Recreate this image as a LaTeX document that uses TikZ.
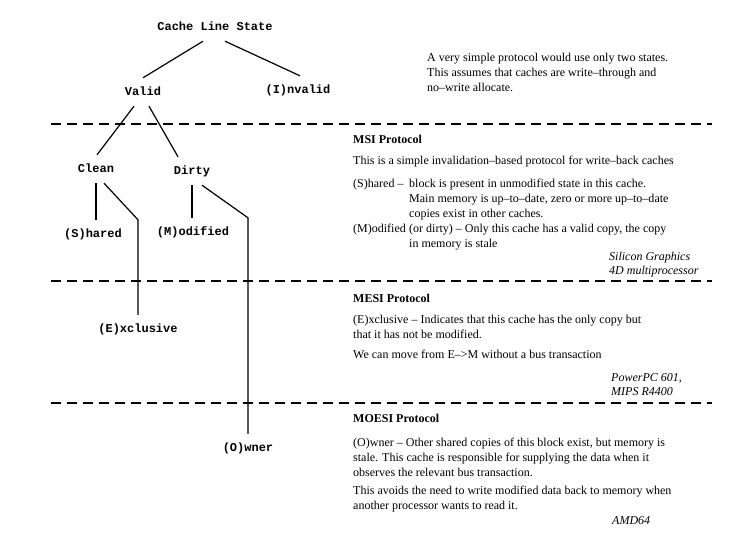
\documentclass[tikz,border=0pt]{standalone}
\usepackage{fontspec}
\setmainfont{Liberation Serif}
\setmonofont{Liberation Mono}
\usetikzlibrary{positioning}
\tikzset{state/.style = {font=\ttfamily\bfseries\fontsize{12}{13}\selectfont,
                         inner sep=0pt, text height=7pt, text depth=1pt, minimum height=28pt}}
\tikzset{note/.style = {anchor=base west, inner sep=0pt, align=left,
                        font=\fontsize{12}{15}\selectfont}}
\tikzset{head/.style = {note, font=\bfseries\fontsize{12}{15}\selectfont}}
\tikzset{cpu/.style = {note, font=\itshape\fontsize{12}{14}\selectfont}}
\tikzset{branch/.style = {line width=1.2pt}}
\tikzset{divider/.style = {line width=1.6pt, dash pattern=on 10pt off 6pt}}

\begin{document}
\begin{tikzpicture}[x=1pt, y=-1pt]
      \useasboundingbox (0,0) rectangle (746,541);

      \node (cls) at (215,27) [state] {Cache Line State};
      \node (valid) at (143,92) [state] {Valid};
      \node (invalid) at (298,90) [state] {(I)nvalid};
      \node (clean) at (96,169) [state] {Clean};
      \node (dirty) at (192,171) [state] {Dirty};
      \node (shared) at (93,234) [state] {(S)hared};
      \node (modified) at (193,232) [state] {(M)odified};
      \node (excl) at (138,329) [state] {(E)xclusive};
      \node (owner) at (248,448) [state] {(O)wner};

      \draw [branch] ([xshift=-12pt]cls.south) -- (valid.north);
      \draw [branch] ([xshift=10pt]cls.south) -- ([xshift=2pt]invalid.north);
      \draw [branch] ([xshift=-9pt]valid.south) -- ([xshift=1pt]clean.north);
      \draw [branch] ([xshift=6pt]valid.south) -- ([xshift=-14pt]dirty.north);
      \draw [branch] (clean.south) -- (clean.south |- shared.north);
      \draw [branch] ([xshift=8pt]clean.south) -- (excl.north |- shared.north) -- (excl.north);
      \draw [branch] (dirty.south) -- (dirty.south |- modified.north);
      \draw [branch] ([xshift=10pt]dirty.south) -- (owner.north |- modified.north) -- (owner.north);

      \draw [divider] (51,124) -- (712,124);
      \draw [divider] (51,281) -- (712,281);
      \draw [divider] (51,403) -- (712,403);

      % multi-line notes sit on the baseline of their last line
      \node (twostate) at (427,91) [note] {A very simple protocol would use only two states.\\This assumes that caches are write--through and\\no--write allocate.};

      \node (msi) at (353,143) [head] {MSI Protocol};
      \node (msidesc) at (353,164) [note] {This is a simple invalidation--based protocol for write--back caches};
      \node (msistates) at (353,247) [note] {\makebox[56pt][l]{(S)hared --}block is present in unmodified state in this cache.\\
        \hspace*{56pt}Main memory is up--to--date, zero or more up--to--date\\
        \hspace*{56pt}copies exist in other caches.\\
        \makebox[56pt][l]{(M)odified}(or dirty) -- Only this cache has a valid copy, the copy\\
        \hspace*{56pt}in memory is stale};
      \node (msicpu) at (609,274) [cpu] {Silicon Graphics\\4D multiprocessor};

      \node (mesi) at (353,302) [head] {MESI Protocol};
      \node (mesidesc) at (353,338) [note] {(E)xclusive -- Indicates that this cache has the only copy but\\that it has not be modified.};
      \node (mesimove) at (353,358) [note] {We can move from E\textendash{}>M without a bus transaction};
      \node (mesicpu) at (611,395) [cpu] {PowerPC 601,\\MIPS R4400};

      \node (moesi) at (353,422) [head] {MOESI Protocol};
      \node (moesidesc) at (353,476) [note] {(O)wner -- Other shared copies of this block exist, but memory is\\stale. This cache is responsible for supplying the data when it\\observes the relevant bus transaction.};
      \node (moesiwrite) at (353,509) [note] {This avoids the need to write modified data back to memory when\\another processor wants to read it.};
      \node (moesicpu) at (612,524) [cpu] {AMD64};
    \end{tikzpicture}
\end{document}
